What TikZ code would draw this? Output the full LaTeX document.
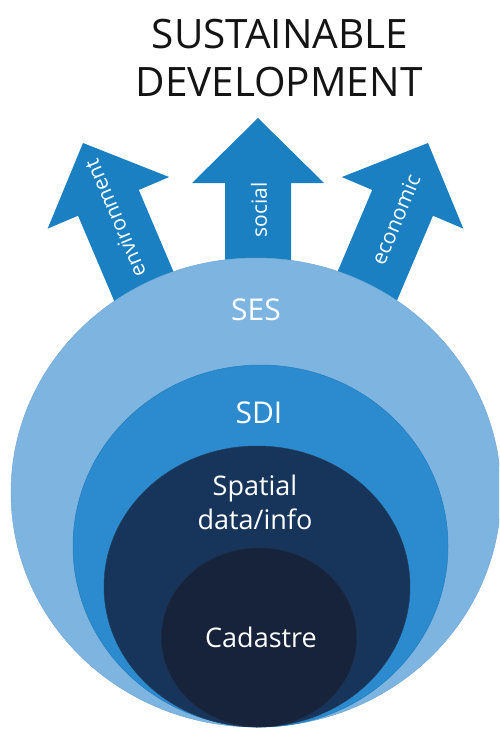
\documentclass[tikz,border=0pt]{standalone}
\usepackage{fontspec}
\setmainfont{Open Sans}
\definecolor{arrowblue}{HTML}{1A80C1}
\definecolor{sesblue}{HTML}{7EB4E0}
\definecolor{sesedge}{HTML}{72AADA}
\definecolor{sdiblue}{HTML}{2B8BCE}
\definecolor{sdiedge}{HTML}{237EC0}
\definecolor{spnavy}{HTML}{17355A}
\definecolor{spedge}{HTML}{22405F}
\definecolor{cadnavy}{HTML}{17233B}
\definecolor{cadedge}{HTML}{1E2B42}
\begin{document}
\begin{tikzpicture}[x=1pt,y=-1pt,
  bigarrow/.style={fill=arrowblue,draw=none},
  ring/.style={line width=0.5pt},
  label/.style={text=white,font=\fontsize{30}{32}\selectfont,inner sep=0pt},
  arrowlabel/.style={text=white,font=\fontsize{21}{23}\selectfont,inner sep=0pt},
  title/.style={text=black!92,font=\fontsize{40.5}{49}\selectfont,align=center,inner sep=0pt}]
\useasboundingbox (0,0) rectangle (499,729);
\clip (0,0) rectangle (499,729);

% title
\node[title] (t1) at (280,34) {SUSTAINABLE};
\node[title] (t2) at (279,82) {DEVELOPMENT};

% arrows
\newcommand\sdarrowpath{(0,0) -- (66,65) -- (33,65) -- (33,230) -- (-33,230) -- (-33,65) -- (-66,65) -- cycle}
\begin{scope}[shift={(83,143)},rotate=23]
  \fill[bigarrow] \sdarrowpath;
  \node[arrowlabel,rotate=113] (env) at (0,82) {environment};
\end{scope}
\begin{scope}[shift={(258,118)}]
  \fill[bigarrow] \sdarrowpath;
  \node[arrowlabel,rotate=90] (soc) at (1,92) {social};
\end{scope}
\begin{scope}[shift={(428,143)},rotate=-23]
  \fill[bigarrow] \sdarrowpath;
  \node[arrowlabel,rotate=67] (eco) at (0,83) {economic};
\end{scope}

% nested circles
\fill[sesblue,draw=sesedge,ring] (256,492.5) ellipse [x radius=245, y radius=234.5];
\fill[sdiblue,draw=sdiedge,ring] (260.5,546) ellipse [x radius=187.5, y radius=181];
\fill[spnavy,draw=spedge,ring] (257,586.5) ellipse [x radius=153, y radius=140.5];
\fill[cadnavy,draw=cadedge,ring] (259,637.5) ellipse [x radius=97.5, y radius=89.5];

% labels
\node[label] (ses) at (256,310) {SES};
\node[label] (sdi) at (259,413) {SDI};
\node[label,font=\fontsize{27}{34}\selectfont,align=center] (sp) at (255,502) {Spatial\\data/info};
\node[label,font=\fontsize{27}{30}\selectfont] (cad) at (261,637) {Cadastre};
\end{tikzpicture}
\end{document}
